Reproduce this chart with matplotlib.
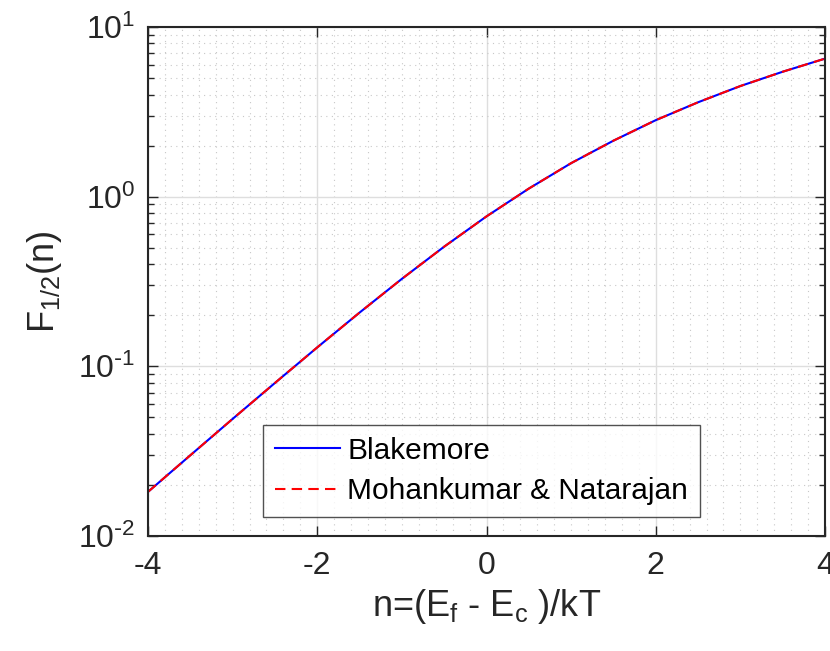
import matplotlib
matplotlib.use("Agg")
import matplotlib.pyplot as plt
from matplotlib.ticker import LogLocator, MultipleLocator, NullFormatter

plt.rcParams['font.family'] = ['Liberation Sans', 'DejaVu Sans']
plt.rcParams['mathtext.default'] = 'regular'

eta = [-4.0, -3.5, -3.0, -2.5, -2.0, -1.5, -1.0, -0.5, 0.0,
       0.5, 1.0, 1.5, 2.0, 2.5, 3.0, 3.5, 4.0]
f_blakemore = [0.0182, 0.0299, 0.0490, 0.0798, 0.1293, 0.2074, 0.3278, 0.5075, 0.7651,
               1.116, 1.576, 2.138, 2.824, 3.60, 4.488, 5.45, 6.51]
f_mohankumar = [0.0182, 0.0299, 0.0490, 0.0798, 0.1293, 0.2074, 0.3278, 0.5075, 0.7651,
                1.116, 1.576, 2.138, 2.824, 3.60, 4.488, 5.45, 6.51]
labels = ['Blakemore', 'Mohankumar & Natarajan']
xtick_labels = ['-4', '-2', '0', '2', '4']
ytick_labels = [r'$10^{\text{-}2}$', r'$10^{\text{-}1}$', r'$10^{0}$', r'$10^{1}$']

TXT = '#262626'
fig = plt.figure(figsize=(8.30, 6.51), dpi=100)
ax = fig.add_axes([148/830, 1 - 536/651, (825-148)/830, (536-27)/651])

ax.plot(eta, f_blakemore, color='#0000ff', lw=1.5, label=labels[0])
ax.plot(eta, f_mohankumar, color='#ff0000', lw=1.5, ls=(0, (5, 3)), label=labels[1])

ax.set_yscale('log')
ax.set_xlim(-4, 4)
ax.set_ylim(1e-2, 1e1)
ax.set_xticks([-4, -2, 0, 2, 4])
ax.set_xticklabels(xtick_labels)
ax.xaxis.set_minor_locator(MultipleLocator(0.2))
ax.set_yticks([1e-2, 1e-1, 1e0, 1e1])
ax.set_yticklabels(ytick_labels)
ax.yaxis.set_minor_locator(LogLocator(base=10, subs=range(2, 10), numticks=20))
ax.yaxis.set_minor_formatter(NullFormatter())

ax.grid(True, which='major', color='#dedede', lw=1.0, ls='-')
ax.grid(True, which='minor', color='#c8c8c8', lw=0.8, ls=(0, (1, 4)))
ax.set_axisbelow(True)

ax.tick_params(which='both', direction='in', top=True, right=True, colors=TXT,
               labelcolor=TXT, labelsize=23)
ax.tick_params(axis='x', pad=11)
ax.tick_params(axis='y', pad=9)
ax.tick_params(which='major', length=7, width=1)
ax.tick_params(axis='y', which='minor', length=4, width=1)
ax.tick_params(axis='x', which='minor', length=0)
for s in ax.spines.values():
    s.set_color(TXT)
    s.set_linewidth(1.5)

ax.set_xlabel(r'n=(E$_f$ - E$_c$ )/kT', fontsize=26, color=TXT, labelpad=4)
ax.set_ylabel(r'F$_{1/2}$(n)', fontsize=26, color=TXT, labelpad=10)

leg = ax.legend(loc='lower left', bbox_to_anchor=((263-148)/677, (536-517)/509),
                fontsize=21.5, frameon=True, fancybox=False, edgecolor=TXT,
                handlelength=2.17, borderaxespad=0, borderpad=0.4, labelspacing=0.42,
                handletextpad=0.25)
leg.get_frame().set_linewidth(1.0)
for t in leg.get_texts():
    t.set_color('#000000')

fig.savefig('out.png', dpi=100)
